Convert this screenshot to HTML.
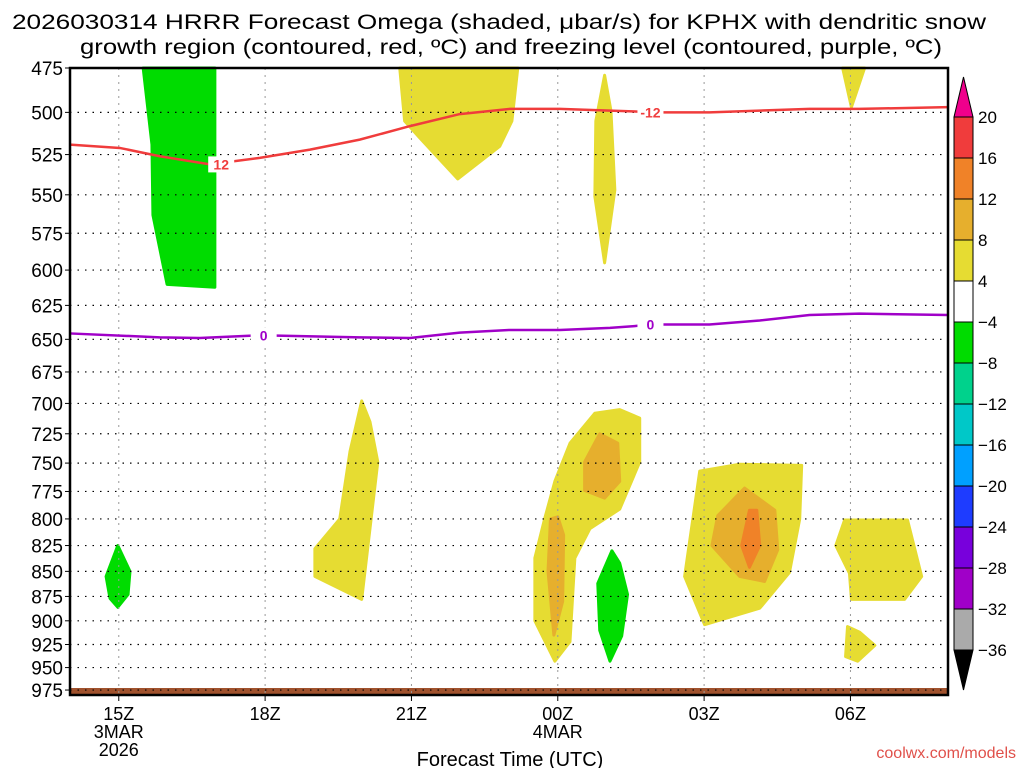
<!DOCTYPE html>
<html><head><meta charset="utf-8"><style>
body{margin:0;background:#fff;width:1024px;height:768px;overflow:hidden}
svg{display:block;font-family:"Liberation Sans","DejaVu Sans",sans-serif}
</style></head><body>
<svg id="chart" width="1024" height="768" xmlns="http://www.w3.org/2000/svg">
<text x="12" y="29" font-size="21" textLength="974" lengthAdjust="spacingAndGlyphs">2026030314 HRRR Forecast Omega (shaded, μbar/s) for KPHX with dendritic snow</text>
<text x="80" y="54" font-size="21" textLength="862" lengthAdjust="spacingAndGlyphs">growth region (contoured, red, ºC) and freezing level (contoured, purple, ºC)</text>
<text x="510" y="766" text-anchor="middle" font-size="20">Forecast Time (UTC)</text>
<text x="1016" y="758" text-anchor="end" font-size="16" fill="#e0504a">coolwx.com/models</text>
<g id="fills"></g><g id="grid"></g><g id="lines"></g><g id="axes"></g><g id="cbar"></g>
</svg>
<script>
const pressureTicks=[475,500,525,550,575,600,625,650,675,700,725,750,775,800,825,850,875,900,925,950,975];
const timeTickHours=[15,18,21,24,27,30];
const timeTickLabels=["15Z","18Z","21Z","00Z","03Z","06Z"];
const dendriticHours=[14,15.02,15.84,16.87,17.89,18.92,19.94,20.97,21.99,23.02,24.04,25.07,26.09,27.11,28.14,29.16,30.18,32];
const dendriticP=[519,521,526,531,527,522,516,508,501,498,498,499,500,500,499,498,498,497];
const freezeHours=[14,15.84,16.66,17.89,19.94,20.97,21.99,23.02,24.04,25.07,25.99,27.11,28.14,29.16,30.18,32];
const freezeP=[645.6,648.5,649,647,648.5,649,645,643,643,641.5,639,639,636,632,631,632];
const cbarLevels=[20,16,12,8,4,-4,-8,-12,-16,-20,-24,-28,-32,-36];
const cbarColors=["#f03c3c","#f08228","#e6af2d","#e6dc32","#ffffff","#00dc00","#00d28c","#00c8c8","#00a0ff","#1e3cff","#7800dc","#a000c8","#aaaaaa"];
const regionLevel=[-8,4,4,4,-8,4,4,8,8,-8,4,8,12,4,4];
const regionPts=[
 [[15.5,475],[15.68,519],[15.7,563],[15.99,610],[16.97,612],[16.97,475]],
 [[20.76,475],[20.86,505],[21.17,515],[21.95,540],[22.81,520],[23.06,505],[23.18,475]],
 [[24.96,479],[24.78,505],[24.76,551],[24.96,595],[25.17,547],[25.09,499]],
 [[29.84,475],[30.02,497],[30.29,475]],
 [[14.98,825],[14.74,855],[14.82,877],[14.98,886],[15.19,873],[15.23,850]],
 [[19.98,698],[19.74,740],[19.53,800],[19.02,828],[19.02,855],[19.98,878],[20.31,749],[20.15,715]],
 [[23.73,800],[23.53,837],[23.53,900],[23.94,943],[24.25,922],[24.35,837],[24.66,809],[25.27,791],[25.68,749],[25.68,712],[25.27,705],[24.76,708],[24.25,733],[23.94,766]],
 [[23.85,800],[23.8,850],[23.92,915],[24.1,880],[24.12,815],[24.0,798]],
 [[24.86,725],[24.55,749],[24.55,774],[24.96,781],[25.27,766],[25.23,733]],
 [[25.11,830],[24.82,862],[24.86,910],[25.07,943],[25.31,916],[25.43,873],[25.27,842]],
 [[26.91,757],[26.6,855],[27.01,904],[28.14,887],[28.75,851],[28.96,800],[29.0,752],[27.73,751]],
 [[27.83,772],[27.28,797],[27.16,825],[27.73,855],[28.24,860],[28.51,829],[28.45,792]],
 [[27.93,792],[27.77,825],[27.93,846],[28.14,825],[28.08,792]],
 [[29.88,801],[29.7,825],[29.98,852],[30.02,878],[31.11,878],[31.46,855],[31.17,801]],
 [[29.94,906],[29.9,938],[30.15,943],[30.5,926],[30.19,912]]
];
const L=70,R=948,T=68,B=695,H0=14,H1=32;
const X=h=>L+(h-H0)*(R-L)/(H1-H0);
const Y=p=>T+Math.log(p/475)*865;
const NS="http://www.w3.org/2000/svg";
function mk(tag,attrs,parent){const e=document.createElementNS(NS,tag);for(const k in attrs)e.setAttribute(k,attrs[k]);document.getElementById(parent).appendChild(e);return e;}
const lvlColor={4:"#e6dc32",8:"#e6af2d",12:"#f08228",16:"#f03c3c","-8":"#00dc00"};
regionPts.forEach((pts,i)=>{
 const e=mk("polygon",{points:pts.map(q=>X(q[0])+","+Y(q[1])).join(" "),fill:lvlColor[regionLevel[i]],"stroke":lvlColor[regionLevel[i]],"stroke-linejoin":"round","stroke-width":3},"fills");
 
 
});
const terr=mk("rect",{x:L,y:688,width:R-L,height:B-688,fill:"#a0522d"},"fills");


pressureTicks.forEach(p=>{
 const g=mk("line",{x1:L,x2:R,y1:Y(p),y2:Y(p),stroke:"#000","stroke-width":1.2,"stroke-dasharray":"1.5,6"},"grid");
 
 
 mk("line",{x1:L-5,x2:L,y1:Y(p),y2:Y(p),stroke:"#000"},"axes");
 const t=mk("text",{x:L-7,y:Y(p)+7,"text-anchor":"end","font-size":19},"axes");t.textContent=p;
 
 
});
timeTickHours.forEach((h,i)=>{
 const g=mk("line",{x1:X(h),x2:X(h),y1:T,y2:B,stroke:"#999","stroke-width":1,"stroke-dasharray":"2,5"},"grid");
 
 
 mk("line",{x1:X(h),x2:X(h),y1:B,y2:B+6,stroke:"#000"},"axes");
 const t=mk("text",{x:X(h),y:720,"text-anchor":"middle","font-size":18},"axes");t.textContent=timeTickLabels[i];
 
 
});
[["3MAR",X(15),738],["2026",X(15),756],["4MAR",X(24),738]].forEach(a=>{const t=mk("text",{x:a[1],y:a[2],"text-anchor":"middle","font-size":18},"axes");t.textContent=a[0];
 
 });
function line(hs,ps,col,name){const e=mk("polyline",{points:hs.map((h,i)=>X(h)+","+Y(ps[i])).join(" "),fill:"none",stroke:col,"stroke-width":2.5},"lines");
 
 }
line(dendriticHours,dendriticP,"#f03c3c","dendritic-contour-minus12");
line(freezeHours,freezeP,"#a000c8","freezing-level-contour");
function lab(h,p,txt,col,name){mk("rect",{x:X(h)-13,y:Y(p)-8,width:26,height:16,fill:"#fff"},"lines");
 const t=mk("text",{x:X(h),y:Y(p)+5,"text-anchor":"middle","font-size":14,"font-weight":"bold",fill:col},"lines");t.textContent=txt;
 
 }
lab(17.1,531,"12","#f03c3c","contour-label-12a");lab(25.9,500,"-12","#f03c3c","contour-label-12b");
lab(17.97,647,"0","#a000c8","contour-label-0a");lab(25.9,639,"0","#a000c8","contour-label-0b");
const fr=mk("rect",{x:L,y:T,width:R-L,height:B-T,fill:"none",stroke:"#000","stroke-width":2.5},"axes");


const cx=954,cw=19,cy0=117,ch=41;
cbarColors.forEach((c,i)=>{const r=mk("rect",{x:cx,y:cy0+i*ch,width:cw,height:ch,fill:c,stroke:"#000","stroke-width":1},"cbar");
 
 });
const up=mk("polygon",{points:`${cx},${cy0} ${cx+cw/2},77 ${cx+cw},${cy0}`,fill:"#f0008c",stroke:"#000"},"cbar");


const dn=mk("polygon",{points:`${cx},${cy0+13*ch} ${cx+cw/2},690 ${cx+cw},${cy0+13*ch}`,fill:"#000",stroke:"#000"},"cbar");


cbarLevels.forEach((v,i)=>{const t=mk("text",{x:978,y:cy0+i*ch+6,"font-size":17},"cbar");t.textContent=v<0?"−"+(-v):v;
 
 });
</script>
</body></html>
